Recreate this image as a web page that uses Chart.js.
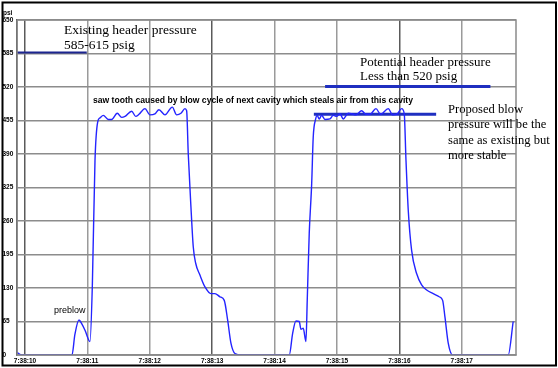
<!DOCTYPE html>
<html>
<head>
<meta charset="utf-8">
<title>Blow pressure</title>
<script src="https://cdn.jsdelivr.net/npm/chart.js@4/dist/chart.umd.min.js"></script>
<style>
  html, body { margin: 0; padding: 0; background: #fff; }
  #wrap { width: 558px; height: 368px; position: relative; }
</style>
</head>
<body>
<div id="wrap"><canvas id="myChart" width="558" height="368"></canvas></div>
<script>
'use strict';

// ******* DATA *******
// seconds after 7:38:10
let timeTicks = [0, 1, 2, 3, 4, 5, 6, 7];
let timeLabels = ['7:38:10', '7:38:11', '7:38:12', '7:38:13', '7:38:14', '7:38:15', '7:38:16', '7:38:17'];
let psiTicks = [0, 65, 130, 195, 260, 325, 390, 455, 520, 585, 650];

let traceTime = [
  -0.128, -0.05, 0.753, 0.80, 0.865, 0.913, 0.962, 1.042, 1.079, 1.122,
  1.165, 1.202, 1.255, 1.335, 1.389, 1.479, 1.550, 1.603, 1.710, 1.774,
  1.827, 1.923, 2.003, 2.083, 2.147, 2.244, 2.361, 2.431, 2.500, 2.564,
  2.591, 2.617, 2.660, 2.697, 2.736, 2.804, 2.885, 2.981, 3.045, 3.125,
  3.194, 3.248, 3.301, 3.365, 3.473, 4.236, 4.290, 4.343, 4.396, 4.423,
  4.460, 4.503, 4.524, 4.556, 4.595, 4.620, 4.659, 4.684, 4.716, 4.755,
  4.808, 4.888, 4.941, 4.995, 5.048, 5.101, 5.181, 5.236, 5.304, 5.396,
  5.465, 5.529, 5.625, 5.700, 5.822, 5.893, 5.966, 6.037, 6.079, 6.106,
  6.143, 6.197, 6.277, 6.357, 6.438, 6.543, 6.639, 6.694, 6.731, 6.784,
  6.854, 7.745, 7.825
];
let tracePsi = [
  5, 0, 0, 40, 68, 60, 48, 26, 132, 377,
  452, 460, 465, 457, 457, 469, 461, 463, 473, 463,
  467, 478, 466, 468, 476, 466, 481, 466, 469, 478,
  474, 390, 287, 210, 178, 155, 132, 119, 119, 113,
  106, 68, 23, 3, 0, 0, 42, 66, 65, 50,
  52, 26, 106, 236, 332, 423, 458, 465, 458, 465,
  457, 458, 465, 463, 468, 458, 469, 468, 466, 474,
  467, 467, 478, 467, 478, 466, 468, 478, 468, 380,
  281, 203, 158, 136, 126, 119, 113, 106, 74, 23,
  0, 0, 65
];

// header / blow pressure marker lines
let existingTime = [-0.128, 0.99];
let existingPsi = [587, 587];
let potentialTime = [4.81, 7.46];
let potentialPsi = [521, 521];
let proposedTime = [4.63, 6.59];
let proposedPsi = [467, 467];

// ***** HELPERS *****
function toPoints(xs, ys) {
  let pts = [];
  for (let i = 0; i < xs.length; i++) {
    pts.push({ x: xs[i], y: ys[i] });
  }
  return pts;
}

// text notes, anchored in chart units
let notes = [
  { lines: ['Existing header pressure', '585-615 psig'], t: 0.625, psi: 623, step: 29, font: '13.5px "Liberation Serif"' },
  { lines: ['Potential header pressure', 'Less than 520 psig'], t: 5.37, psi: 560, step: 26, font: '13px "Liberation Serif"' },
  { lines: ['Proposed blow', 'pressure will be the', 'same as existing but', 'more stable'], t: 6.78, psi: 470, step: 30, font: '12.6px "Liberation Serif"' },
  { lines: ['saw tooth caused by blow cycle of next cavity which steals air from this cavity'], t: 1.09, psi: 488, step: 0, font: 'bold 8.6px "Liberation Sans"' },
  { lines: ['preblow'], t: 0.465, psi: 81, step: 0, font: '9px "Liberation Sans"' }
];

// ***** PLUGINS *****
let framePlugin = {
  id: 'frame',
  beforeDraw(chart) {
    let ctx = chart.ctx;
    ctx.save();
    ctx.fillStyle = '#ffffff';
    ctx.fillRect(0, 0, chart.width, chart.height);
    ctx.restore();
  },
  afterDraw(chart) {
    let ctx = chart.ctx;
    let area = chart.chartArea;
    let xs = chart.scales.x;
    let ys = chart.scales.y;
    ctx.save();
    // plot box
    ctx.strokeStyle = '#8a8a8a';
    ctx.lineWidth = 1.5;
    ctx.strokeRect(area.left, area.top, area.right - area.left, area.bottom - area.top);
    // outer frame
    ctx.strokeStyle = '#000000';
    ctx.lineWidth = 2;
    ctx.strokeRect(2.5, 2.5, chart.width - 4.5, chart.height - 5);
    // unit
    ctx.fillStyle = '#000';
    ctx.font = 'bold 6.5px "Liberation Sans"';
    ctx.textBaseline = 'alphabetic';
    ctx.fillText('psi', 3, area.top - 5);
    // notes
    for (let n of notes) {
      ctx.font = n.font;
      let x = xs.getPixelForValue(n.t);
      for (let i = 0; i < n.lines.length; i++) {
        let y = ys.getPixelForValue(n.psi - i * n.step);
        ctx.fillText(n.lines[i], x, y);
      }
    }
    ctx.restore();
  }
};

// ***** CHART *****
function gridColor(context) {
  if (context.tick && context.tick.value % 3 === 0) {
    return '#5a5a5a';
  }
  return '#9a9a9a';
}

const data = {
  datasets: [
    {
      label: 'pressure',
      data: toPoints(traceTime, tracePsi),
      borderColor: '#2424ff',
      borderWidth: 1.4,
      pointRadius: 0,
      cubicInterpolationMode: 'monotone',
      fill: false
    },
    {
      label: 'existing',
      data: toPoints(existingTime, existingPsi),
      borderColor: '#1c2590',
      borderWidth: 2,
      pointRadius: 0
    },
    {
      label: 'potential',
      data: toPoints(potentialTime, potentialPsi),
      borderColor: '#1f2fc0',
      borderWidth: 3,
      pointRadius: 0
    },
    {
      label: 'proposed',
      data: toPoints(proposedTime, proposedPsi),
      borderColor: '#1f2fc0',
      borderWidth: 3,
      pointRadius: 0
    }
  ]
};

const config = {
  type: 'line',
  data: data,
  options: {
    responsive: false,
    animation: false,
    devicePixelRatio: 1,
    layout: { padding: { left: 2.5, top: 20, right: 42, bottom: 0 } },
    plugins: {
      legend: { display: false },
      tooltip: { enabled: false }
    },
    scales: {
      x: {
        type: 'linear',
        min: -0.128,
        max: 7.87,
        afterBuildTicks(scale) {
          scale.ticks = timeTicks.map(v => ({ value: v }));
        },
        afterFit(scale) {
          scale.height = 13;
        },
        ticks: {
          autoSkip: false,
          maxRotation: 0,
          padding: 2,
          color: '#000',
          font: { family: 'Liberation Sans', size: 6.5, weight: 'bold' },
          callback: (value) => timeLabels[timeTicks.indexOf(value)]
        },
        grid: { color: gridColor, lineWidth: 1.5, drawTicks: false },
        border: { display: true, color: '#8a8a8a', width: 1.5 }
      },
      y: {
        min: 0,
        max: 650,
        afterBuildTicks(scale) {
          scale.ticks = psiTicks.map(v => ({ value: v }));
        },
        afterFit(scale) {
          scale.width = 14.5;
        },
        ticks: {
          crossAlign: 'far',
          padding: 0,
          color: '#000',
          font: { family: 'Liberation Sans', size: 6.5, weight: 'bold' }
        },
        grid: { color: '#8c8c8c', lineWidth: 1.5, drawTicks: false },
        border: { display: true, color: '#333', width: 1.5 }
      }
    }
  },
  plugins: [framePlugin]
};

let canvasChart = document.getElementById('myChart');
const myChart = new Chart(canvasChart, config);
</script>
</body>
</html>
